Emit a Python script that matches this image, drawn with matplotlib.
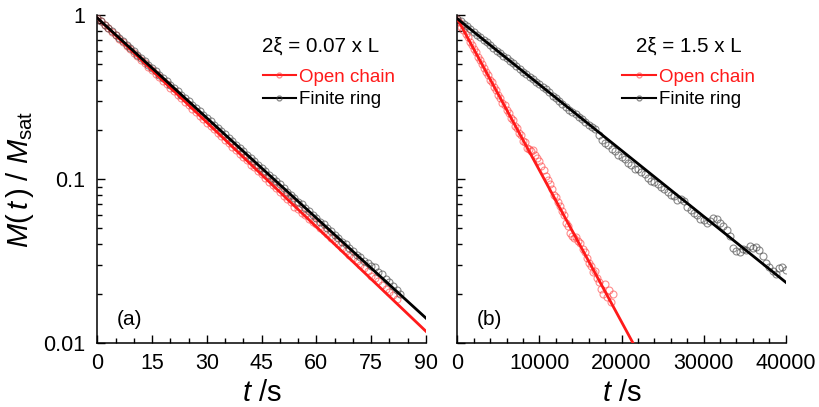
# -*- coding: utf-8 -*-

# magnetisation decay, open chain vs finite ring, two correlation lengths

import numpy as np
import matplotlib
matplotlib.use("Agg")
import matplotlib.pyplot as plt
from matplotlib.lines import Line2D
from matplotlib.ticker import MultipleLocator, LogLocator, FixedLocator, NullFormatter


plt.rcParams.update({
    "font.family": ["Liberation Sans", "DejaVu Sans"],
    "mathtext.fontset": "custom",
    "mathtext.rm": "Liberation Sans",
    "mathtext.it": "Liberation Sans:italic",
    "mathtext.bf": "Liberation Sans:bold",
})

# ---------------- data: panel (a), 2xi = 0.07 L, t in s ----------------
t_a_open = np.arange(0, 83, 1)
m_a_open = [
    0.960, 0.914, 0.871, 0.829, 0.790, 0.752, 0.716, 0.682, 0.649, 0.618,
    0.589, 0.561, 0.534, 0.509, 0.484, 0.461, 0.439, 0.418, 0.398, 0.379,
    0.361, 0.344, 0.327, 0.312, 0.297, 0.283, 0.269, 0.256, 0.244, 0.232,
    0.221, 0.211, 0.201, 0.191, 0.182, 0.173, 0.165, 0.157, 0.150, 0.142,
    0.137, 0.130, 0.122, 0.118, 0.112, 0.107, 0.101, 0.0955, 0.0925, 0.0880,
    0.0835, 0.0785, 0.0760, 0.0725, 0.0680, 0.0660, 0.0625, 0.0600, 0.0570, 0.0545,
    0.0530, 0.0505, 0.0480, 0.0462, 0.0440, 0.0418, 0.0402, 0.0380, 0.0365, 0.0345,
    0.0330, 0.0318, 0.0298, 0.0285, 0.0275, 0.0258, 0.0248, 0.0240, 0.0226, 0.0214,
    0.0205, 0.0196, 0.0186,
]
t_a_ring = np.arange(0, 84, 1)
m_a_ring = [
    0.960, 0.916, 0.874, 0.834, 0.796, 0.760, 0.725, 0.692, 0.661, 0.630,
    0.602, 0.574, 0.548, 0.523, 0.499, 0.476, 0.454, 0.434, 0.414, 0.395,
    0.377, 0.359, 0.343, 0.327, 0.312, 0.298, 0.284, 0.271, 0.259, 0.247,
    0.236, 0.225, 0.215, 0.205, 0.196, 0.187, 0.178, 0.170, 0.162, 0.155,
    0.148, 0.141, 0.135, 0.128, 0.122, 0.117, 0.112, 0.106, 0.102, 0.0970,
    0.0930, 0.0885, 0.0838, 0.0805, 0.0770, 0.0728, 0.0700, 0.0662, 0.0640, 0.0605,
    0.0582, 0.0550, 0.0530, 0.0500, 0.0483, 0.0455, 0.0440, 0.0415, 0.0402, 0.0378,
    0.0366, 0.0344, 0.0333, 0.0316, 0.0310, 0.0295, 0.0290, 0.0272, 0.0262, 0.0245,
    0.0236, 0.0224, 0.0212, 0.0200,
]
fit_a_t = [0, 90]
fit_a_open = [0.96, 0.0118]
fit_a_ring = [0.96, 0.0142]

# ---------------- data: panel (b), 2xi = 1.5 L ----------------
t_b_open = np.arange(0, 19001, 250)
m_b_open = [
    0.950, 0.905, 0.850, 0.812, 0.765, 0.730, 0.688, 0.657, 0.619, 0.592,
    0.556, 0.531, 0.500, 0.478, 0.449, 0.430, 0.404, 0.388, 0.362, 0.349,
    0.325, 0.314, 0.292, 0.283, 0.262, 0.254, 0.236, 0.229, 0.211, 0.206,
    0.190, 0.186, 0.171, 0.168, 0.155, 0.153, 0.148, 0.150, 0.141, 0.135,
    0.128, 0.120, 0.113, 0.104, 0.0990, 0.0930, 0.0870, 0.0800, 0.0780, 0.0720,
    0.0690, 0.0640, 0.0600, 0.0540, 0.0520, 0.0470, 0.0450, 0.0440, 0.0445, 0.0420,
    0.0410, 0.0375, 0.0360, 0.0330, 0.0310, 0.0295, 0.0270, 0.0275, 0.0248, 0.0235,
    0.0215, 0.0200, 0.0228, 0.0190, 0.0210, 0.0178, 0.0198,
]
t_b_ring = np.arange(0, 40001, 400)
m_b_ring = [
    0.950, 0.918, 0.880, 0.852, 0.817, 0.792, 0.759, 0.735, 0.705, 0.683,
    0.654, 0.634, 0.607, 0.589, 0.564, 0.547, 0.523, 0.508, 0.486, 0.472,
    0.451, 0.439, 0.419, 0.407, 0.389, 0.378, 0.365, 0.352, 0.338, 0.323,
    0.311, 0.299, 0.287, 0.276, 0.265, 0.256, 0.248, 0.240, 0.234, 0.224,
    0.215, 0.209, 0.201, 0.186, 0.174, 0.165, 0.162, 0.152, 0.148, 0.140,
    0.136, 0.132, 0.125, 0.122, 0.116, 0.115, 0.110, 0.107, 0.102, 0.098,
    0.0960, 0.0930, 0.0890, 0.0870, 0.0830, 0.0800, 0.0790, 0.0750, 0.0760, 0.0735,
    0.0680, 0.0650, 0.0620, 0.0600, 0.0570, 0.0560, 0.0540, 0.0555, 0.0575, 0.0570,
    0.0540, 0.0520, 0.0490, 0.0450, 0.0380, 0.0365, 0.0360, 0.0375, 0.0370, 0.0390,
    0.0380, 0.0385, 0.0370, 0.0340, 0.0310, 0.0290, 0.0275, 0.0265, 0.0285, 0.0290,
    0.0280,
]
fit_b_open_t = [0, 22000]
fit_b_open = [0.95, 0.0088]
fit_b_ring_t = [0, 40000]
fit_b_ring = [0.95, 0.0235]

RED = "#ff1a1a"
PALE_RED = (1.0, 0.2, 0.2, 0.55)
GREY = (0.25, 0.25, 0.25, 0.6)


def style_axis(ax):
    for s in ["top", "right"]:
        ax.spines[s].set_visible(False)
    for s in ["left", "bottom"]:
        ax.spines[s].set_linewidth(1.1)
    ax.set_yscale("log")
    ax.set_ylim(0.01, 1)
    ax.yaxis.set_major_locator(FixedLocator([0.01, 0.1, 1]))
    ax.yaxis.set_minor_locator(LogLocator(base=10, subs=np.arange(2, 10)))
    ax.yaxis.set_minor_formatter(NullFormatter())
    ax.tick_params(which="both", direction="in", labelsize=15.5, width=1.0)
    ax.tick_params(which="major", length=6)
    ax.tick_params(which="minor", length=3.5)
    ax.tick_params(axis="x", pad=7)
    ax.tick_params(axis="y", pad=9)
    ax.set_xlabel("$t$ /s", fontsize=21, labelpad=4)


def draw_panel(ax, t_open, m_open, t_ring, m_ring, ft_open, f_open, ft_ring, f_ring,
               title, title_x, letter):
    ax.plot(t_open, m_open, ls="none", marker="o", ms=5, mfc="none",
            mec=PALE_RED, mew=0.8, zorder=2)
    ax.plot(t_ring, m_ring, ls="none", marker="o", ms=5, mfc="none",
            mec=GREY, mew=0.8, zorder=2)
    ax.plot(ft_open, f_open, color=RED, lw=2.0, zorder=3)
    ax.plot(ft_ring, f_ring, color="black", lw=2.0, zorder=3)

    ax.text(title_x, 0.905, title, transform=ax.transAxes, fontsize=14.8,
            ha="center", va="center")
    handles = [
        Line2D([], [], color=RED, lw=1.5, marker="o", ms=3.5, mfc="none", mec=PALE_RED),
        Line2D([], [], color="black", lw=1.5, marker="o", ms=3.5, mfc="none", mec=GREY),
    ]
    leg = ax.legend(handles, ["Open chain", "Finite ring"], loc="upper left",
                    bbox_to_anchor=(0.48, 0.86), frameon=False, fontsize=13.5,
                    handlelength=1.8, handletextpad=0.15, labelspacing=0.3,
                    borderaxespad=0)
    leg.get_texts()[0].set_color(RED)
    ax.text(0.06, 0.073, letter, transform=ax.transAxes, fontsize=15,
            ha="left", va="center")


fig = plt.figure(figsize=(8.19, 4.07), dpi=100)
ax_a = fig.add_axes([0.1188, 0.157, 0.4013, 0.806])
ax_b = fig.add_axes([0.5584, 0.157, 0.401, 0.806])

style_axis(ax_a)
ax_a.set_xlim(0, 90)
ax_a.xaxis.set_major_locator(MultipleLocator(15))
ax_a.xaxis.set_minor_locator(MultipleLocator(5))
ax_a.set_yticklabels(["0.01", "0.1", "1"])
ax_a.set_ylabel(r"$M(\,t\,)\ /\ M_{\mathrm{sat}}$", fontsize=21, labelpad=5)
draw_panel(ax_a, t_a_open, m_a_open, t_a_ring, m_a_ring,
           fit_a_t, fit_a_open, fit_a_t, fit_a_ring,
           "2ξ = 0.07 x L", 0.68, "(a)")

style_axis(ax_b)
ax_b.set_xlim(0, 40000)
ax_b.xaxis.set_major_locator(MultipleLocator(10000))
ax_b.xaxis.set_minor_locator(MultipleLocator(2000))
ax_b.set_yticklabels([])
draw_panel(ax_b, t_b_open, m_b_open, t_b_ring, m_b_ring,
           fit_b_open_t, fit_b_open, fit_b_ring_t, fit_b_ring,
           "2ξ = 1.5 x L", 0.704, "(b)")

fig.savefig("out.png", dpi=100)
